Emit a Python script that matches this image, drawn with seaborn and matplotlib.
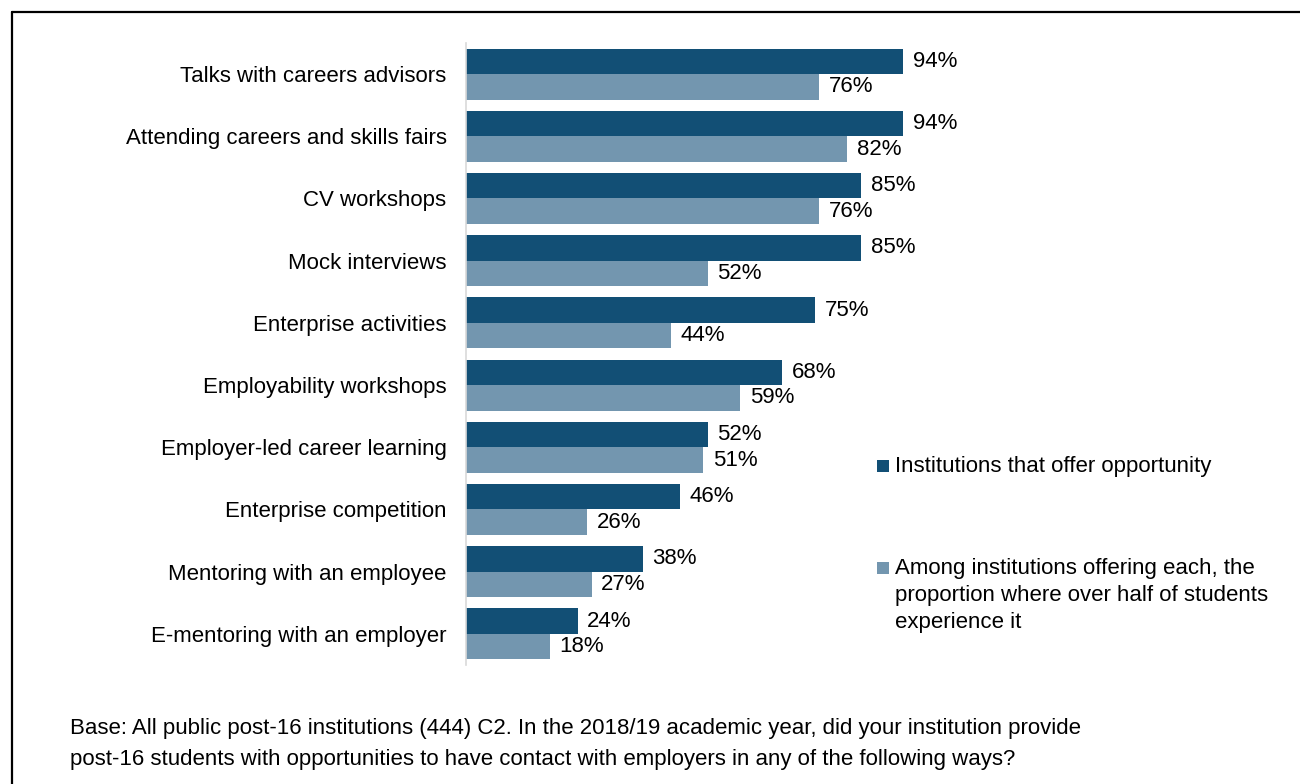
import matplotlib
matplotlib.use("Agg")
import matplotlib.pyplot as plt
from matplotlib.patches import Rectangle
from matplotlib.lines import Line2D
import seaborn as sns
import pandas as pd

categories = [
    "Talks with careers advisors",
    "Attending careers and skills fairs",
    "CV workshops",
    "Mock interviews",
    "Enterprise activities",
    "Employability workshops",
    "Employer-led career learning",
    "Enterprise competition",
    "Mentoring with an employee",
    "E-mentoring with an employer",
]
offer_pct = [94, 94, 85, 85, 75, 68, 52, 46, 38, 24]
majority_pct = [76, 82, 76, 52, 44, 59, 51, 26, 27, 18]

series_names = [
    "Institutions that offer opportunity",
    "Among institutions offering each, the\nproportion where over half of students\nexperience it",
]
colors = ["#124F75", "#7396AF"]

footnote = ("Base: All public post-16 institutions (444) C2. In the 2018/19 academic year, did your institution provide\n"
            "post-16 students with opportunities to have contact with employers in any of the following ways?")

df = pd.DataFrame({
    "category": categories * 2,
    "value": offer_pct + majority_pct,
    "series": [series_names[0]] * len(categories) + [series_names[1]] * len(categories),
})

sns.set_theme(style="white")
plt.rcParams["font.family"] = ["Liberation Sans", "DejaVu Sans"]

FS = 16

fig = plt.figure(figsize=(13, 7.84), dpi=100)
ax = fig.add_axes([466 / 1300, 1 - 665 / 784, 465 / 1300, (665 - 43) / 784])

sns.barplot(data=df, y="category", x="value", hue="series", orient="h",
            palette=colors, width=0.82, gap=0, saturation=1, ax=ax,
            legend=False, order=categories, hue_order=series_names, errorbar=None,
            linewidth=0)

for cont in ax.containers:
    ax.bar_label(cont, labels=[f"{v:.0f}%" for v in cont.datavalues],
                 padding=7, fontsize=FS, color="#000000")

ax.set_xlim(0, 100)
ax.set_ylim(len(categories) - 0.5, -0.5)
ax.set_xlabel("")
ax.set_ylabel("")
ax.set_xticks([])
ax.tick_params(axis="y", length=0, pad=14, labelsize=FS, labelcolor="#000000")
for side in ["top", "right", "bottom"]:
    ax.spines[side].set_visible(False)
ax.spines["left"].set_color("#D9D9D9")
ax.spines["left"].set_linewidth(1.2)

# legend entries drawn as small squares with text
leg_x = 877 / 1300
leg_items = [(466, series_names[0]), (568, series_names[1])]
for (ypix, label), col in zip(leg_items, colors):
    sq = 12
    fig.patches.append(Rectangle((leg_x, 1 - (ypix + sq / 2) / 784), sq / 1300, sq / 784,
                                 transform=fig.transFigure, facecolor=col, edgecolor="none"))
    fig.text(895 / 1300, 1 - (ypix - 10) / 784, label, fontsize=FS, va="top", ha="left",
             color="#000000", linespacing=1.38)

fig.text(70 / 1300, 1 - 718 / 784, footnote, fontsize=FS, va="top", ha="left",
         color="#000000", linespacing=1.62)

# frame lines along the top and left edge
fig.add_artist(Line2D([12 / 1300, 1.0], [1 - 12 / 784, 1 - 12 / 784],
                      transform=fig.transFigure, color="#000000", linewidth=1.6))
fig.add_artist(Line2D([12 / 1300, 12 / 1300], [1 - 12 / 784, 0.0],
                      transform=fig.transFigure, color="#000000", linewidth=1.6))

fig.savefig("out.png", dpi=100, facecolor="white")
